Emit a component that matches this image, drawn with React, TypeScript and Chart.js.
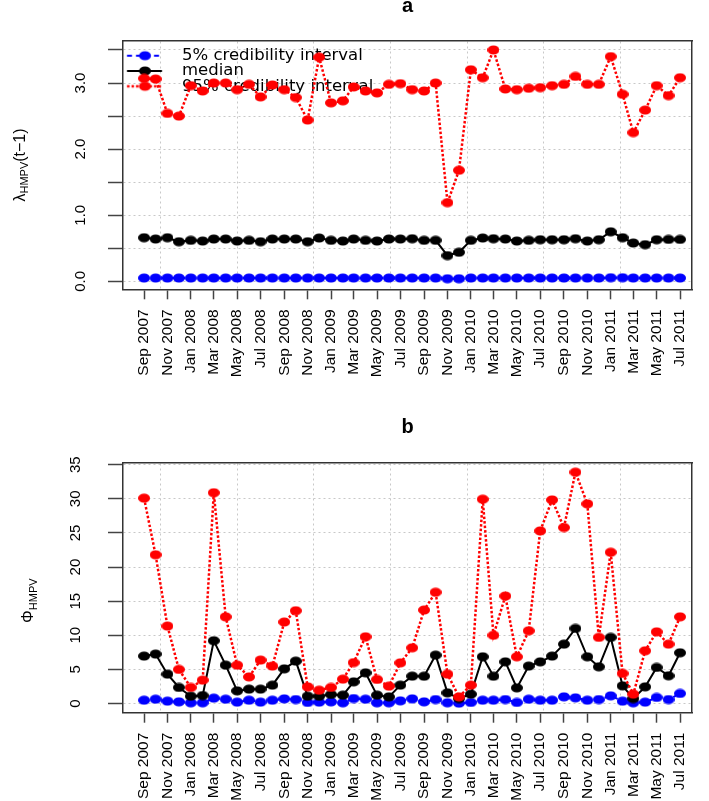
import React, { useEffect, useRef } from "react";
import { Chart, registerables } from "chart.js";

Chart.register(...registerables);

// ---------- data ----------
const START_YEAR = 2007;
const START_MONTH = 8; // September (0-based)
const MONTH_COUNT = 47; // Sep 2007 .. Jul 2011

const tickLabels = [
  "Sep 2007", "Nov 2007", "Jan 2008", "Mar 2008", "May 2008", "Jul 2008",
  "Sep 2008", "Nov 2008", "Jan 2009", "Mar 2009", "May 2009", "Jul 2009",
  "Sep 2009", "Nov 2009", "Jan 2010", "Mar 2010", "May 2010", "Jul 2010",
  "Sep 2010", "Nov 2010", "Jan 2011", "Mar 2011", "May 2011", "Jul 2011",
];

// panel a : lambda_HMPV(t-1)
const lambdaLow = [
  0.05, 0.05, 0.05, 0.05, 0.05, 0.05, 0.05, 0.05, 0.05, 0.05,
  0.05, 0.05, 0.05, 0.05, 0.05, 0.05, 0.05, 0.05, 0.05, 0.05,
  0.05, 0.05, 0.05, 0.05, 0.05, 0.05, 0.04, 0.04, 0.05, 0.05,
  0.05, 0.05, 0.05, 0.05, 0.05, 0.05, 0.05, 0.05, 0.05, 0.05,
  0.055, 0.055, 0.05, 0.05, 0.05, 0.05, 0.05,
];
const lambdaMedian = [
  0.66, 0.64, 0.66, 0.60, 0.62, 0.61, 0.64, 0.64, 0.61, 0.62,
  0.60, 0.64, 0.64, 0.64, 0.60, 0.655, 0.62, 0.61, 0.64, 0.62,
  0.61, 0.64, 0.64, 0.645, 0.62, 0.62, 0.39, 0.44, 0.62, 0.655,
  0.645, 0.64, 0.61, 0.62, 0.63, 0.63, 0.63, 0.645, 0.61, 0.63,
  0.75, 0.66, 0.58, 0.555, 0.63, 0.635, 0.635,
];
const lambdaHigh = [
  3.07, 3.06, 2.54, 2.50, 2.96, 2.88, 3.00, 3.00, 2.90, 2.98,
  2.79, 2.97, 2.90, 2.78, 2.44, 3.39, 2.70, 2.73, 2.94, 2.88,
  2.85, 2.98, 2.99, 2.90, 2.88, 3.00, 1.19, 1.68, 3.20, 3.08,
  3.50, 2.91, 2.90, 2.92, 2.93, 2.96, 2.98, 3.10, 2.98, 2.98,
  3.40, 2.83, 2.25, 2.59, 2.96, 2.81, 3.08,
];

// panel b : Phi_HMPV
const phiLow = [
  0.48, 0.63, 0.34, 0.24, 0.10, 0.10, 0.78, 0.63, 0.20, 0.48,
  0.20, 0.48, 0.68, 0.58, 0.15, 0.20, 0.24, 0.10, 0.73, 0.63,
  0.10, 0.10, 0.39, 0.68, 0.24, 0.58, 0.10, 0.05, 0.15, 0.48,
  0.48, 0.58, 0.15, 0.63, 0.48, 0.48, 0.97, 0.83, 0.48, 0.58,
  1.12, 0.34, 0.10, 0.20, 0.88, 0.58, 1.47,
];
const phiMedian = [
  6.95, 7.24, 4.30, 2.35, 1.07, 1.17, 9.20, 5.62, 1.85, 2.10,
  2.10, 2.69, 5.08, 6.21, 1.07, 1.07, 1.32, 1.22, 3.17, 4.49,
  1.22, 0.97, 2.69, 4.01, 4.00, 7.09, 1.56, 0.73, 1.37, 6.85,
  4.00, 6.11, 2.29, 5.48, 6.11, 6.95, 8.70, 11.0, 6.85, 5.38,
  9.69, 2.59, 0.73, 2.44, 5.28, 4.06, 7.43,
];
const phiHigh = [
  30.1, 21.8, 11.35, 4.99, 2.35, 3.42, 30.9, 12.7, 5.62, 3.90,
  6.36, 5.48, 11.94, 13.6, 2.44, 1.95, 2.35, 3.57, 6.00, 9.78,
  3.52, 2.54, 5.96, 8.17, 13.7, 16.3, 4.30, 0.97, 2.69, 29.95,
  10.0, 15.75, 6.85, 10.66, 25.3, 29.85, 25.8, 33.9, 29.27, 9.69,
  22.17, 4.40, 1.37, 7.73, 10.5, 8.70, 12.7,
];

const lambdaTicks = [0, 0.5, 1, 1.5, 2, 2.5, 3, 3.5];
const phiTicks = [0, 5, 10, 15, 20, 25, 30, 35];
// vertical grid lines (R date numbers, days since 1970-01-01)
const gridDays = [13800, 14000, 14200, 14400, 14600, 14800, 15000];

const legendTexts = ["5% credibility interval", "median", "95% credibility interval"];

// ---------- helpers ----------
const DAY = 86400000;
const monthDays = Array.from({ length: MONTH_COUNT }, (_, i) => Date.UTC(START_YEAR, START_MONTH + i, 1) / DAY);
const tickDays = monthDays.filter((_, i) => i % 2 === 0);
const X_MIN = monthDays[0] - 55;
const X_MAX = monthDays[MONTH_COUNT - 1] + 31.6;

const BLUE = "#0000ff";
const BLACK = "#000000";
const RED = "#ff0000";
const SANS = '"Liberation Sans", Arial, Helvetica, sans-serif';

function makeDot(color: string) {
  const c = document.createElement("canvas");
  c.width = 12;
  c.height = 10;
  const g = c.getContext("2d")!;
  g.fillStyle = color;
  g.beginPath();
  g.ellipse(6, 5, 6, 4.5, 0, 0, Math.PI * 2);
  g.fill();
  return c;
}

function makeSample(color: string, dash: number[], width: number) {
  const c = document.createElement("canvas");
  c.width = 52;
  c.height = 12;
  const g = c.getContext("2d")!;
  g.strokeStyle = color;
  g.lineWidth = width;
  g.setLineDash(dash);
  g.beginPath();
  g.moveTo(5.2, 6);
  g.lineTo(40.2, 6);
  g.stroke();
  g.setLineDash([]);
  g.fillStyle = color;
  g.beginPath();
  g.ellipse(23.2, 6, 6, 4.5, 0, 0, Math.PI * 2);
  g.fill();
  return c;
}

function yTitlePlugin(main: string, sub: string, tail: string, baseX: number, dy: number) {
  return {
    id: "yTitle",
    afterDraw(chart: any) {
      const { ctx, chartArea } = chart;
      const yc = (chartArea.top + chartArea.bottom) / 2 + dy;
      const mainFont = `16px ${SANS}`;
      const subFont = `11px ${SANS}`;
      ctx.save();
      ctx.translate(baseX, yc);
      ctx.rotate(-Math.PI / 2);
      ctx.fillStyle = "#000";
      ctx.textAlign = "left";
      ctx.textBaseline = "alphabetic";
      ctx.font = mainFont;
      const w1 = ctx.measureText(main).width;
      const w3 = ctx.measureText(tail).width;
      ctx.font = subFont;
      const w2 = ctx.measureText(sub).width;
      let cx = -(w1 + w2 + w3) / 2;
      ctx.font = mainFont;
      ctx.fillText(main, cx, 0);
      cx += w1;
      ctx.font = subFont;
      ctx.fillText(sub, cx, 3.5);
      cx += w2;
      ctx.font = mainFont;
      if (tail) ctx.fillText(tail, cx, 0);
      ctx.restore();
    },
  };
}

interface Panel {
  low: number[];
  med: number[];
  high: number[];
  yMin: number;
  yMax: number;
  yTicks: number[];
  fmt: (v: number) => string;
  title: string;
  titlePadTop: number;
  titlePadBottom: number;
  xAxisHeight: number;
  yLabelPad: number;
  legend: boolean;
  yTitle: any;
}

function buildConfig(p: Panel, dots: any, samples: any[]): any {
  const toPts = (arr: number[]) => arr.map((v, i) => ({ x: monthDays[i], y: v }));
  const grid = "#c8c8c8";
  const frame = "#333333";
  return {
    type: "line",
    data: {
      datasets: [
        {
          label: legendTexts[0], data: toPts(p.low), borderColor: BLUE, backgroundColor: BLUE,
          borderWidth: 2, borderDash: [5, 4], pointStyle: dots.blue, pointRadius: 5, order: 2,
          xAxisID: "x", yAxisID: "y", tension: 0,
        },
        {
          label: legendTexts[1], data: toPts(p.med), borderColor: BLACK, backgroundColor: BLACK,
          borderWidth: 2, pointStyle: dots.black, pointRadius: 5, order: 1,
          xAxisID: "x", yAxisID: "y", tension: 0,
        },
        {
          label: legendTexts[2], data: toPts(p.high), borderColor: RED, backgroundColor: RED,
          borderWidth: 2.5, borderDash: [2.5, 2], pointStyle: dots.red, pointRadius: 5, order: 0,
          xAxisID: "x", yAxisID: "y", tension: 0,
        },
      ],
    },
    options: {
      responsive: false,
      animation: false,
      events: [],
      layout: { padding: { left: 0, right: 12, top: 0, bottom: 0 } },
      scales: {
        x: {
          type: "linear", position: "bottom", min: X_MIN, max: X_MAX,
          afterBuildTicks: (s: any) => { s.ticks = tickDays.map((v) => ({ value: v })); },
          afterFit: (s: any) => { s.height = p.xAxisHeight; },
          ticks: {
            autoSkip: false, minRotation: 90, maxRotation: 90, padding: 10, color: "#000",
            font: { family: SANS, size: 15.5 },
            callback: (_v: any, i: number) => tickLabels[i],
          },
          grid: { display: true, drawOnChartArea: false, drawTicks: true, tickLength: 10, tickColor: "#444", tickWidth: 1.5 },
          border: { display: true, color: frame, width: 1.5 },
        },
        x2: {
          type: "linear", axis: "x", position: "top", min: X_MIN, max: X_MAX,
          afterBuildTicks: (s: any) => { s.ticks = gridDays.map((v) => ({ value: v })); },
          afterFit: (s: any) => { s.height = 0; },
          ticks: { display: false },
          grid: { display: true, drawOnChartArea: true, drawTicks: false, color: grid, lineWidth: 1 },
          border: { display: true, color: frame, width: 1.5, dash: [2, 3] },
        },
        y: {
          type: "linear", position: "left", min: p.yMin, max: p.yMax,
          afterBuildTicks: (s: any) => { s.ticks = p.yTicks.map((v) => ({ value: v })); },
          afterFit: (s: any) => { s.width = 123; },
          ticks: {
            autoSkip: false, minRotation: 90, maxRotation: 90, crossAlign: "center",
            padding: p.yLabelPad, color: "#000", font: { family: SANS, size: 15 },
            callback: (v: number) => p.fmt(v),
          },
          grid: { display: true, drawOnChartArea: true, drawTicks: true, tickLength: 15, color: grid, lineWidth: 1, tickColor: "#444", tickWidth: 1.5 },
          border: { display: true, color: frame, width: 1.5, dash: [2, 3] },
        },
        y2: {
          type: "linear", axis: "y", position: "right",
          afterFit: (s: any) => { s.width = 0; },
          ticks: { display: false },
          grid: { display: false, drawTicks: false },
          border: { display: true, color: frame, width: 1.5 },
        },
      },
      plugins: {
        tooltip: { enabled: false },
        title: {
          display: true, text: p.title, fullSize: false, color: "#000",
          font: { family: SANS, size: 20, weight: "bold", lineHeight: 0.6 },
          padding: { top: p.titlePadTop, bottom: p.titlePadBottom },
        },
        legend: p.legend
          ? {
              display: true,
              position: "chartArea",
              align: "start",
              // empty title used only as a vertical spacer above the entries
              title: { display: true, text: "", padding: 0, font: { size: 10, lineHeight: 4.865 } },
              labels: {
                usePointStyle: true,
                pointStyleWidth: 52,
                padding: -1.2,
                color: "#000",
                font: { family: '"DejaVu Sans", sans-serif', size: 16.5 },
                generateLabels: () =>
                  legendTexts.map((t, i) => ({
                    text: t, pointStyle: samples[i], fillStyle: "#000", strokeStyle: "#000",
                    lineWidth: 0, fontColor: "#000", hidden: false, datasetIndex: i,
                  })),
              },
            }
          : { display: false },
      },
    },
    plugins: [p.yTitle],
  };
}

export default function App() {
  const refA = useRef<HTMLCanvasElement>(null);
  const refB = useRef<HTMLCanvasElement>(null);

  useEffect(() => {
    const dots = { blue: makeDot(BLUE), black: makeDot(BLACK), red: makeDot(RED) };
    const samples = [
      makeSample(BLUE, [5, 4], 2),
      makeSample(BLACK, [], 2),
      makeSample(RED, [2.5, 2], 2.5),
    ];
    const chartA = new Chart(
      refA.current!,
      buildConfig(
        {
          low: lambdaLow, med: lambdaMedian, high: lambdaHigh,
          yMin: -0.12, yMax: 3.64, yTicks: lambdaTicks,
          fmt: (v) => (Math.abs(v - Math.round(v)) < 1e-9 ? v.toFixed(1) : ""),
          title: "a", titlePadTop: 0, titlePadBottom: 28.7, xAxisHeight: 110.7,
          yLabelPad: 17, legend: true,
          yTitle: yTitlePlugin("λ", "HMPV", "(t−1)", 24.6, 0),
        },
        dots, samples
      )
    );
    const chartB = new Chart(
      refB.current!,
      buildConfig(
        {
          low: phiLow, med: phiMedian, high: phiHigh,
          yMin: -1.35, yMax: 35.3, yTicks: phiTicks,
          fmt: (v) => String(v),
          title: "b", titlePadTop: 21, titlePadBottom: 29.7, xAxisHeight: 88.3,
          yLabelPad: 23.6, legend: false,
          yTitle: yTitlePlugin("Φ", "HMPV", "", 33, 13),
        },
        dots, samples
      )
    );
    return () => {
      chartA.destroy();
      chartB.destroy();
    };
  }, []);

  return (
    <div style={{ position: "absolute", left: 0, top: 0, width: 709, height: 801, background: "#fff" }}>
      <canvas ref={refA} width={709} height={400} style={{ display: "block" }} />
      <canvas ref={refB} width={709} height={401} style={{ display: "block" }} />
    </div>
  );
}
